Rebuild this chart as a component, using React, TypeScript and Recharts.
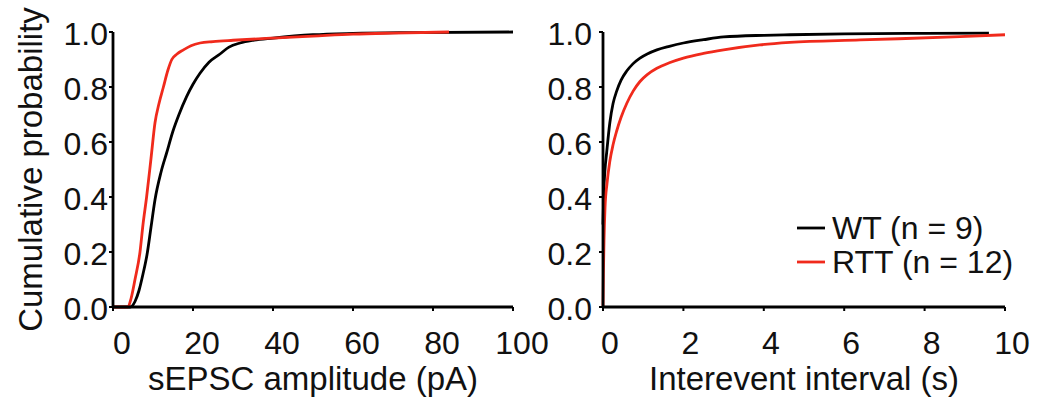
import React from 'react';
import { LineChart, Line, XAxis, YAxis } from 'recharts';

// tick values
const probTicks = [0, 0.2, 0.4, 0.6, 0.8, 1.0];
const ampTicks = [0, 20, 40, 60, 80, 100];
const intervalTicks = [0, 2, 4, 6, 8, 10];

// series names
const seriesNames = ['WT (n = 9)', 'RTT (n = 12)'];

// sEPSC amplitude (pA) cumulative curves
const ampWtX = [0, 4.3, 5.5, 6.5, 7.5, 8.5, 9.5, 10.5, 12, 13.4, 15, 16.5, 18.4, 20, 21.75, 24, 26.75, 29, 31.75, 35, 40, 50, 60, 75, 100];
const ampWtP = [0, 0, 0.02, 0.06, 0.12, 0.19, 0.29, 0.39, 0.49, 0.56, 0.64, 0.7, 0.765, 0.81, 0.85, 0.89, 0.92, 0.945, 0.96, 0.97, 0.978, 0.99, 0.995, 0.998, 1.0];
const ampRttX = [0, 3.75, 4.5, 5.5, 6.75, 7.5, 8.4, 9.5, 10.5, 11.5, 12.6, 13.7, 14.7, 16, 17.6, 19.5, 21.75, 25, 30, 40, 50, 60, 70, 84];
const ampRttP = [0, 0, 0.03, 0.1, 0.2, 0.3, 0.4, 0.54, 0.67, 0.74, 0.8, 0.86, 0.9, 0.92, 0.935, 0.95, 0.96, 0.965, 0.97, 0.978, 0.985, 0.992, 0.996, 1.0];

// interevent interval (s) cumulative curves
const ivlWtX = [0, 0.02, 0.05, 0.09, 0.17, 0.25, 0.34, 0.45, 0.59, 0.75, 0.92, 1.1, 1.34, 1.65, 2.0, 2.5, 3.0, 4.0, 4.65, 6, 8, 9.6];
const ivlWtP = [0.3, 0.42, 0.5, 0.56, 0.67, 0.74, 0.785, 0.825, 0.858, 0.885, 0.905, 0.92, 0.935, 0.948, 0.96, 0.972, 0.982, 0.988, 0.99, 0.993, 0.995, 0.996];
const ivlRttX = [0, 0.01, 0.025, 0.05, 0.1, 0.17, 0.25, 0.34, 0.45, 0.59, 0.75, 0.92, 1.1, 1.34, 1.65, 2.0, 2.5, 3.0, 3.9, 4.65, 6.4, 8.88, 10];
const ivlRttP = [0, 0.12, 0.24, 0.36, 0.45, 0.53, 0.59, 0.64, 0.69, 0.74, 0.785, 0.82, 0.845, 0.868, 0.888, 0.905, 0.922, 0.935, 0.953, 0.962, 0.971, 0.983, 0.99];

const rows = (xs: number[], ps: number[]) => xs.map((x, i) => ({ x, p: ps[i] }));

const RED = '#f02a1c';
const colors = ['#000', RED];
const FONT = '"Liberation Sans", Arial, sans-serif';
const tickStyle = { fill: '#111', fontSize: 32 };
const axisLine = { stroke: '#000', strokeWidth: 2.8 };
const tickLine = { stroke: '#000', strokeWidth: 2 };
const LW = 2.8;

export default function App() {
  return (
    <div style={{ position: 'absolute', left: 0, top: 0, width: 1042, height: 397, background: '#fff', fontFamily: FONT }}>
      <div style={{ position: 'absolute', left: 0, top: 0 }}>
        <LineChart width={580} height={397} margin={{ top: 32, right: 67, bottom: 0, left: 0 }}>
          <XAxis
            dataKey="x"
            type="number"
            domain={[0, 100]}
            ticks={ampTicks}
            height={90}
            tickSize={4}
            tickMargin={20}
            tick={{ ...tickStyle, dx: 9 }}
            axisLine={axisLine}
            tickLine={tickLine}
            label={{ value: 'sEPSC amplitude (pA)', position: 'insideBottom', offset: 7, fill: '#111', fontSize: 33 }}
          />
          <YAxis
            type="number"
            domain={[0, 1]}
            ticks={probTicks}
            width={113}
            tickSize={4}
            tickMargin={1}
            tick={{ ...tickStyle, dy: 2 }}
            tickFormatter={(v: number) => v.toFixed(1)}
            axisLine={axisLine}
            tickLine={tickLine}
            label={{ value: 'Cumulative probability', angle: -90, position: 'insideLeft', offset: 30, fill: '#111', fontSize: 33, style: { textAnchor: 'middle' } }}
          />
          <Line data={rows(ampWtX, ampWtP)} dataKey="p" name={seriesNames[0]} type="monotone" stroke={colors[0]} strokeWidth={LW} dot={false} isAnimationActive={false} />
          <Line data={rows(ampRttX, ampRttP)} dataKey="p" name={seriesNames[1]} type="monotone" stroke={colors[1]} strokeWidth={LW} dot={false} isAnimationActive={false} />
        </LineChart>
      </div>
      <div style={{ position: 'absolute', left: 540, top: 0 }}>
        <LineChart width={502} height={397} margin={{ top: 32, right: 37, bottom: 0, left: 0 }}>
          <XAxis
            dataKey="x"
            type="number"
            domain={[0, 10]}
            ticks={intervalTicks}
            height={90}
            tickSize={4}
            tickMargin={20}
            tick={{ ...tickStyle, dx: 7 }}
            axisLine={axisLine}
            tickLine={tickLine}
            label={{ value: 'Interevent interval (s)', position: 'insideBottom', offset: 7, fill: '#111', fontSize: 33 }}
          />
          <YAxis
            type="number"
            domain={[0, 1]}
            ticks={probTicks}
            width={63}
            tickSize={4}
            tickMargin={7}
            tick={{ ...tickStyle, dy: 2 }}
            tickFormatter={(v: number) => v.toFixed(1)}
            axisLine={axisLine}
            tickLine={tickLine}
          />
          <Line data={rows(ivlWtX, ivlWtP)} dataKey="p" name={seriesNames[0]} type="monotone" stroke={colors[0]} strokeWidth={LW} dot={false} isAnimationActive={false} />
          <Line data={rows(ivlRttX, ivlRttP)} dataKey="p" name={seriesNames[1]} type="monotone" stroke={colors[1]} strokeWidth={LW} dot={false} isAnimationActive={false} />
        </LineChart>
      </div>
      {/* legend for the right panel */}
      <svg width={1042} height={397} style={{ position: 'absolute', left: 0, top: 0, pointerEvents: 'none' }}>
        {seriesNames.map((name, i) => (
          <g key={name} transform={`translate(797, ${228 + i * 34})`}>
            <line x1={0} x2={28} y1={0} y2={0} stroke={colors[i]} strokeWidth={LW} />
            <text x={35} y={11} fontSize={32} fill="#111">{name}</text>
          </g>
        ))}
      </svg>
    </div>
  );
}
